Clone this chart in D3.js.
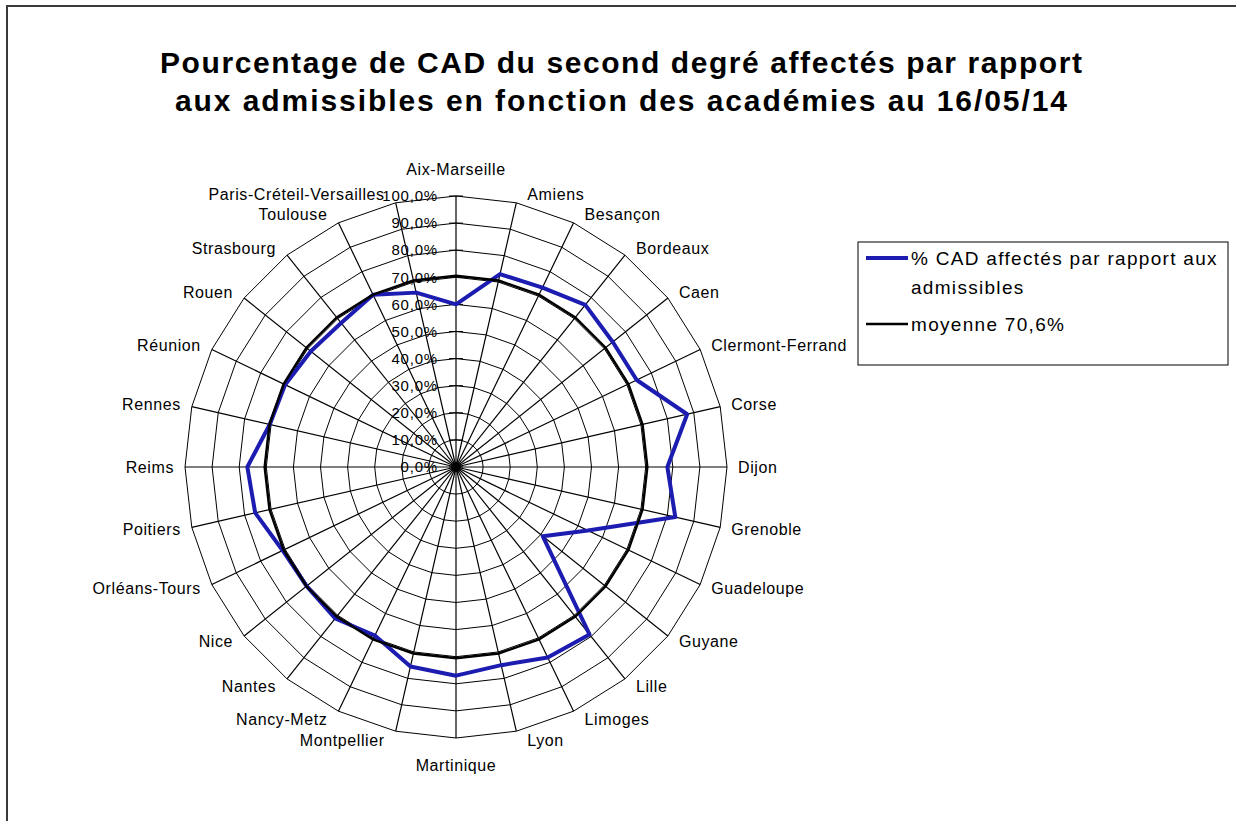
<!DOCTYPE html>
<html>
<head>
<meta charset="utf-8">
<script src="https://cdn.jsdelivr.net/npm/d3@7"></script>
<style>
  body { margin: 0; background: #fff; }
  svg { display: block; font-family: "Liberation Sans", Arial, sans-serif; }
</style>
</head>
<body>
<div id="chart"></div>
<script>
// Academies, clockwise from the top
const academies = ["Aix-Marseille", "Amiens", "Besançon", "Bordeaux", "Caen", "Clermont-Ferrand",
  "Corse", "Dijon", "Grenoble", "Guadeloupe", "Guyane", "Lille", "Limoges", "Lyon", "Martinique",
  "Montpellier", "Nancy-Metz", "Nantes", "Nice", "Orléans-Tours", "Poitiers", "Reims", "Rennes",
  "Réunion", "Rouen", "Strasbourg", "Toulouse", "Paris-Créteil-Versailles"];

// % CAD affectés par rapport aux admissibles
const pctAffectes = [60, 73, 73.5, 76.5, 74, 74, 87.5, 78, 83, 54, 41, 79, 78, 75, 77,
  75.5, 69, 71.5, 70.5, 71, 76, 77, 70.5, 70, 68.5, 68, 70.5, 66];

// national average
const moyenne = 70.6;

const tickValues = [0, 10, 20, 30, 40, 50, 60, 70, 80, 90, 100];

const titleLines = ["Pourcentage de CAD du second degré affectés par rapport",
  "aux admissibles en fonction des académies au 16/05/14"];
const legendLabels = [["% CAD affectés par rapport aux", "admissibles"], ["moyenne 70,6%"]];

const width = 1236, height = 821;
const cx = 456, cy = 467, R = 271;

const svg = d3.select("#chart").append("svg")
    .attr("width", width)
    .attr("height", height);

// outer frame
svg.append("rect")
    .attr("x", 7).attr("y", 6)
    .attr("width", 1240).attr("height", 830)
    .attr("fill", "#fff")
    .attr("stroke", "#3a3a3a")
    .attr("stroke-width", 2);

// title
svg.selectAll(".title")
    .data(titleLines)
    .enter().append("text")
    .attr("class", "title")
    .attr("x", 621)
    .attr("y", (d, i) => 73 + i * 38)
    .attr("text-anchor", "middle")
    .attr("textLength", (d, i) => i === 0 ? 922 : 892)
    .attr("lengthAdjust", "spacing")
    .style("font-size", "30px")
    .style("font-weight", "bold")
    .text(d => d);

const r = d3.scaleLinear().domain([0, 100]).range([0, R]);
const angle = d3.scaleLinear().domain([0, academies.length]).range([0, 2 * Math.PI]);

const g = svg.append("g").attr("transform", `translate(${cx},${cy})`);

// rings (polygons)
const ring = d3.lineRadial()
    .angle((d, i) => angle(i))
    .radius(d => r(d))
    .curve(d3.curveLinearClosed);

g.selectAll(".ring")
    .data(tickValues.filter(t => t > 0))
    .enter().append("path")
    .attr("class", "ring")
    .attr("d", t => ring(academies.map(() => t)))
    .attr("fill", "none")
    .attr("stroke", "#000")
    .attr("stroke-width", 1);

// spokes
g.selectAll(".spoke")
    .data(academies)
    .enter().append("line")
    .attr("class", "spoke")
    .attr("x1", 0).attr("y1", 0)
    .attr("x2", (d, i) => r(100) * Math.sin(angle(i)))
    .attr("y2", (d, i) => -r(100) * Math.cos(angle(i)))
    .attr("stroke", "#000")
    .attr("stroke-width", 1.2);

g.append("circle").attr("r", 5).attr("fill", "#000");

// tick marks on the first axis
g.selectAll(".tick")
    .data(tickValues)
    .enter().append("line")
    .attr("class", "tick")
    .attr("x1", -7).attr("x2", 7)
    .attr("y1", d => -r(d)).attr("y2", d => -r(d))
    .attr("stroke", "#000");

// tick labels
g.selectAll(".ticklabel")
    .data(tickValues)
    .enter().append("text")
    .attr("class", "ticklabel")
    .attr("x", -18)
    .attr("y", d => -r(d))
    .attr("dy", "0.35em")
    .attr("text-anchor", "end")
    .style("font-size", "15px")
    .style("letter-spacing", "0.8px")
    .text(d => d.toFixed(1).replace(".", ",") + "%");

// series
const seriesLine = d3.lineRadial()
    .angle((d, i) => angle(i))
    .radius(d => r(d))
    .curve(d3.curveLinearClosed);

g.append("path")
    .attr("d", seriesLine(pctAffectes))
    .attr("fill", "none")
    .attr("stroke", "#1c1cb0")
    .attr("stroke-width", 4)
    .attr("stroke-linejoin", "round");

g.append("path")
    .attr("d", seriesLine(academies.map(() => moyenne)))
    .attr("fill", "none")
    .attr("stroke", "#000")
    .attr("stroke-width", 2.5);

// category labels
g.selectAll(".cat")
    .data(academies)
    .enter().append("text")
    .attr("class", "cat")
    .each(function(d, i) {
        const a = angle(i), s = Math.sin(a), c = Math.cos(a);
        const ex = r(100) * s, ey = -r(100) * c;
        const el = d3.select(this);
        if (Math.abs(s) < 0.05) {
            el.attr("x", ex).attr("y", ey - 27 * Math.sign(c)).attr("text-anchor", "middle");
        } else {
            el.attr("x", ex + 11 * Math.sign(s))
              .attr("y", ey - 9 * c)
              .attr("text-anchor", s > 0 ? "start" : "end");
        }
    })
    .attr("dy", "0.35em")
    .style("font-size", "16px")
    .style("letter-spacing", "0.6px")
    .text(d => d);

// legend
const legend = svg.append("g").attr("transform", "translate(858,242)");
legend.append("rect")
    .attr("width", 370).attr("height", 123)
    .attr("fill", "#fff")
    .attr("stroke", "#000")
    .attr("stroke-width", 1);

const legendItems = [
  { lines: legendLabels[0], color: "#1c1cb0", w: 4, y: 16 },
  { lines: legendLabels[1], color: "#000", w: 2.5, y: 82 }
];

legendItems.forEach(item => {
    legend.append("line")
        .attr("x1", 8).attr("x2", 50)
        .attr("y1", item.y).attr("y2", item.y)
        .attr("stroke", item.color)
        .attr("stroke-width", item.w);
    item.lines.forEach((t, j) => {
        legend.append("text")
            .attr("x", 53)
            .attr("y", item.y + j * 29)
            .attr("dy", "0.35em")
            .style("font-size", "19px")
            .style("letter-spacing", "1.3px")
            .text(t);
    });
});
</script>
</body>
</html>
